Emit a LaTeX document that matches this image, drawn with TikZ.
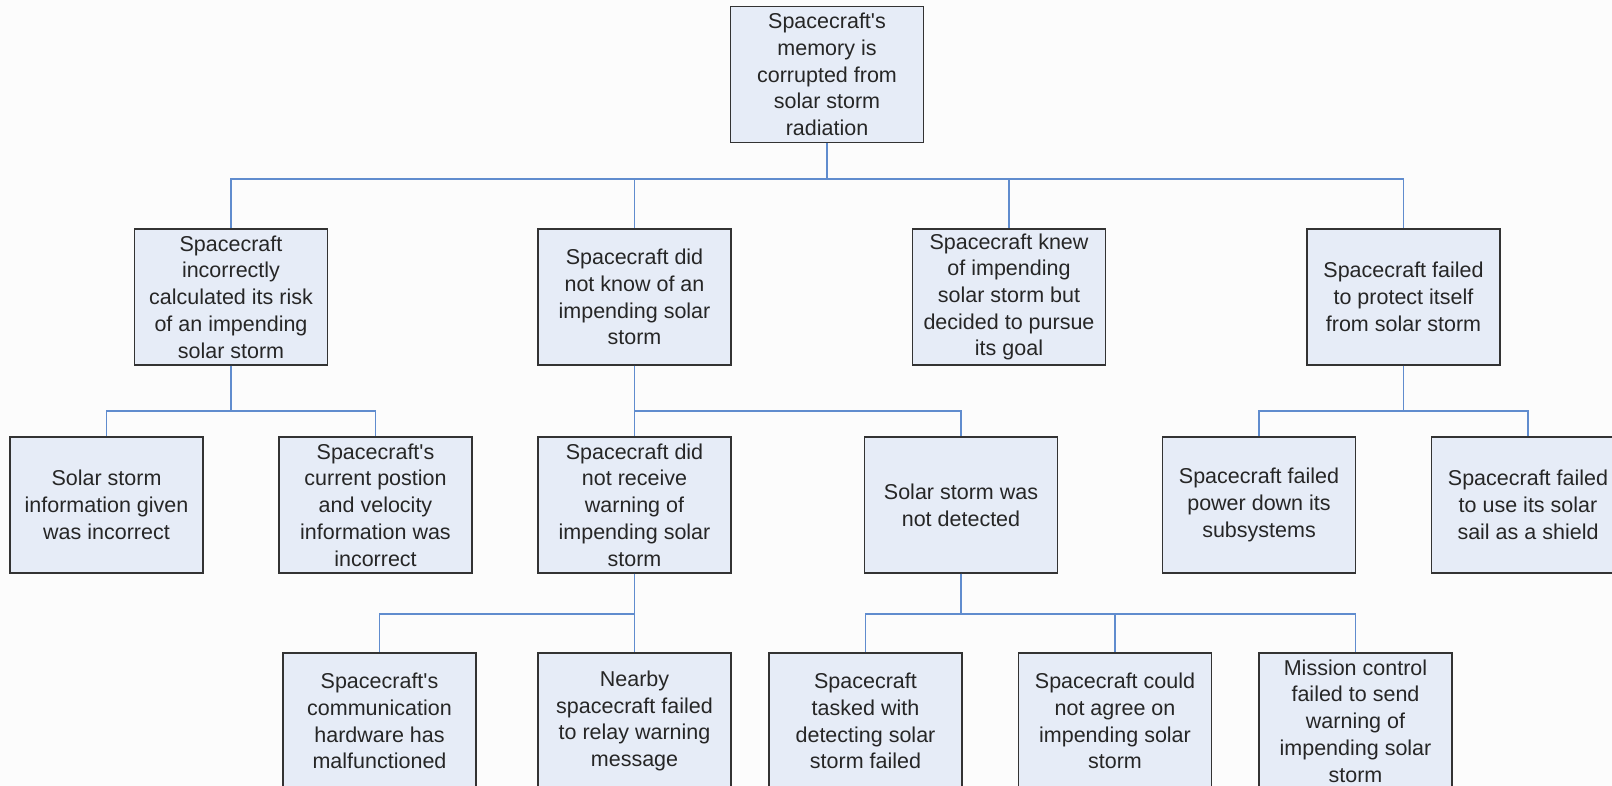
\documentclass[tikz,border=0pt]{standalone}
\usepackage{fontspec}
\setmainfont{Liberation Sans}
\usepackage{tikz}
\usetikzlibrary{positioning, calc}
\definecolor{boxfill}{RGB}{230,236,247}
\definecolor{boxline}{RGB}{51,51,51}
\definecolor{linkblue}{RGB}{96,140,206}
\definecolor{paper}{RGB}{252,252,252}
\tikzset{%
	fault/.style={draw=boxline, line width=1.4pt, fill=boxfill, rectangle,%
		minimum width=193pt, minimum height=136pt, inner sep=0pt, align=center,%
		text=black!85, font=\fontsize{21.5}{26.7}\selectfont},
	link/.style={draw=linkblue, line width=1.5pt}
}

\begin{document}
\begin{tikzpicture}[x=1pt, y=-1pt]
	\useasboundingbox (0,0) rectangle (1612,786);
	\fill[paper] (0,0) rectangle (1612,786);
	\clip (0,0) rectangle (1612,786);

	\coordinate (bus0) at (0,179);
	\coordinate (bus1) at (0,411);
	\coordinate (bus2) at (0,614);

	\node[fault] (top) at (827,74.5) {Spacecraft\textquotesingle s\\memory is\\corrupted from\\solar storm\\radiation};

	\node[fault] (c1) at (231,297)    {Spacecraft\\incorrectly\\calculated its risk\\of an impending\\solar storm};
	\node[fault] (c2) at (634.5,297)  {Spacecraft did\\not know of an\\impending solar\\storm};
	\node[fault] (c3) at (1009,297)   {Spacecraft knew\\of impending\\solar storm but\\decided to pursue\\its goal};
	\node[fault] (c4) at (1403.5,297) {Spacecraft failed\\to protect itself\\from solar storm};

	\node[fault] (c11) at (106.5,505) {Solar storm\\information given\\was incorrect};
	\node[fault] (c12) at (375.5,505) {Spacecraft\textquotesingle s\\current postion\\and velocity\\information was\\incorrect};
	\node[fault] (c21) at (634.5,505) {Spacecraft did\\not receive\\warning of\\impending solar\\storm};
	\node[fault] (c22) at (961,505)   {Solar storm was\\not detected};
	\node[fault] (c41) at (1259,505)  {Spacecraft failed\\power down its\\subsystems};
	\node[fault] (c42) at (1528,505)  {Spacecraft failed\\to use its solar\\sail as a shield};

	\node[fault] (c211) at (379.5,721) {Spacecraft\textquotesingle s\\communication\\hardware has\\malfunctioned};
	\node[fault] (c212) at (634.5,721) {Nearby\\spacecraft failed\\to relay warning\\message};
	\node[fault] (c221) at (865.5,721) {Spacecraft\\tasked with\\detecting solar\\storm failed};
	\node[fault] (c222) at (1115,721)  {Spacecraft could\\not agree on\\impending solar\\storm};
	\node[fault] (c223) at (1355.5,721) {Mission control\\failed to send\\warning of\\impending solar\\storm};

	\foreach \c in {c1, c2, c3, c4}
		\draw[link] (top.south) -- (top.south |- bus0) -| (\c.north);
	\foreach \c in {c11, c12}
		\draw[link] (c1.south) -- (c1.south |- bus1) -| (\c.north);
	\foreach \c in {c21, c22}
		\draw[link] (c2.south) -- (c2.south |- bus1) -| (\c.north);
	\foreach \c in {c41, c42}
		\draw[link] (c4.south) -- (c4.south |- bus1) -| (\c.north);
	\foreach \c in {c211, c212}
		\draw[link] (c21.south) -- (c21.south |- bus2) -| (\c.north);
	\foreach \c in {c221, c222, c223}
		\draw[link] (c22.south) -- (c22.south |- bus2) -| (\c.north);
\end{tikzpicture}
\end{document}
